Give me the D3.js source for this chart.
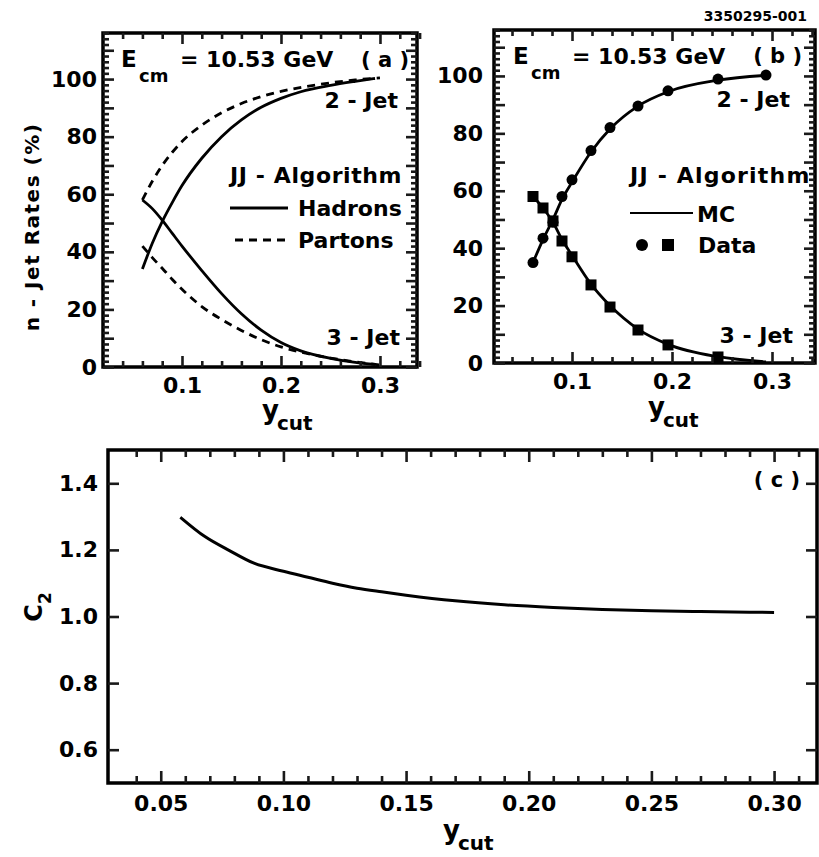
<!DOCTYPE html>
<html>
<head>
<meta charset="utf-8">
<script src="https://cdn.jsdelivr.net/npm/d3@7"></script>
<style>
  body { margin: 0; background: #fff; }
  svg text { font-family: "DejaVu Sans", sans-serif; font-weight: bold; fill: #000; }
</style>
</head>
<body>
<svg id="chart" width="819" height="857"></svg>
<script>
// ---- panel (a): JJ algorithm, MC at hadron and parton level ----
const hadX    = [0.060, 0.070, 0.080, 0.090, 0.100, 0.120, 0.140, 0.160, 0.180, 0.200, 0.220, 0.250, 0.275, 0.295];
const had2Jet = [34, 43, 50.5, 57, 63, 72.5, 80, 85.8, 90.2, 93.3, 95.6, 97.8, 99.2, 100.2];
const had3Jet = [58, 55, 51, 46.5, 42, 33.5, 25.5, 18.5, 12.8, 8.5, 5.6, 3.0, 1.6, 0.9];

const parX    = [0.060, 0.070, 0.080, 0.090, 0.100, 0.120, 0.140, 0.160, 0.180, 0.200, 0.225, 0.250, 0.275, 0.300];
const par2Jet = [58, 64.5, 70, 74.5, 78.3, 84, 88.3, 91.5, 93.9, 95.7, 97.4, 98.7, 99.7, 100.4];
const par3Jet = [42, 38, 34.3, 30.5, 27, 21, 16.5, 12.7, 9.5, 7, 4.8, 3.1, 1.8, 0.7];

// ---- panel (b): data vs MC ----
const dataX    = [0.061, 0.071, 0.081, 0.090, 0.100, 0.119, 0.138, 0.166, 0.196, 0.246, 0.294];
const data2Jet = [35, 43.5, 49, 58, 63.8, 74, 82, 89.5, 94.8, 98.9, 100.3];
const data3Jet = [58, 54, 49.5, 42.5, 37, 27.2, 19.5, 11.5, 6.3, 2.1, null];

const mcX    = [0.061, 0.071, 0.081, 0.090, 0.100, 0.119, 0.138, 0.166, 0.196, 0.246, 0.294];
const mc2Jet = [35, 43, 50, 57, 63, 73.5, 81.5, 89.5, 94.5, 98.5, 100.2];
const mc3Jet = [58, 54, 49, 43, 37.5, 27.5, 20, 11.8, 6.5, 2.2, 0.4];

// ---- panel (c): C2 vs ycut ----
const cX  = [0.058, 0.068, 0.078, 0.088, 0.100, 0.110, 0.120, 0.130, 0.140, 0.150, 0.170, 0.190, 0.210, 0.230, 0.250, 0.270, 0.290, 0.300];
const cC2 = [1.298, 1.240, 1.198, 1.160, 1.136, 1.118, 1.100, 1.085, 1.074, 1.064, 1.047, 1.035, 1.027, 1.021, 1.017, 1.015, 1.013, 1.012];

// ---- ticks ----
const rateXMajor = [0.1, 0.2, 0.3];
const rateXMinor = [0.04, 0.06, 0.08, 0.12, 0.14, 0.16, 0.18, 0.22, 0.24, 0.26, 0.28, 0.32, 0.34];
const rateYMajor = d3.range(0, 120, 10);
const rateYMinor = d3.range(0, 117, 2).filter(v => v % 10 !== 0);
const rateYLabels = [0, 20, 40, 60, 80, 100];

const c2XMajor = [0.05, 0.10, 0.15, 0.20, 0.25, 0.30];
const c2XMinor = [0.04, 0.06, 0.07, 0.08, 0.09, 0.11, 0.12, 0.13, 0.14, 0.16, 0.17, 0.18, 0.19,
                  0.21, 0.22, 0.23, 0.24, 0.26, 0.27, 0.28, 0.29, 0.31];
const c2YMajor = [0.6, 0.8, 1.0, 1.2, 1.4];

const svg = d3.select("#chart");

const boxA = {l: 103, t: 33, r: 417, b: 367};
const boxB = {l: 494, t: 30, r: 815, b: 363};
const boxC = {l: 108, t: 450, r: 817, b: 783};

const sA = {x: d3.scaleLinear().domain([0.0202, 0.3374]).range([boxA.l, boxA.r]),
            y: d3.scaleLinear().domain([0, 116]).range([boxA.b, boxA.t])};
const sB = {x: d3.scaleLinear().domain([0.022, 0.343]).range([boxB.l, boxB.r]),
            y: d3.scaleLinear().domain([0, 116]).range([boxB.b, boxB.t])};
const sC = {x: d3.scaleLinear().domain([0.0285, 0.3175]).range([boxC.l, boxC.r]),
            y: d3.scaleLinear().domain([0.5, 1.5]).range([boxC.b, boxC.t])};

// tick labels from d3 axes
function labels(g, fn, scale, pos, vals, fmt, pad, horiz) {
  const ag = g.append("g")
    .attr("transform", horiz ? `translate(0,${pos})` : `translate(${pos},0)`)
    .call(fn(scale).tickValues(vals).tickSize(0).tickPadding(pad).tickFormat(fmt));
  ag.select(".domain").remove();
  ag.selectAll("text").style("font-size", "22px");
}

function frame(g, box) {
  g.append("rect")
    .attr("x", box.l).attr("y", box.t)
    .attr("width", box.r - box.l).attr("height", box.b - box.t)
    .attr("fill", "none").attr("stroke", "#000").attr("stroke-width", 3.5);
}

function curve(g, sc, xs, ys, dash, width) {
  const pts = xs.map((x, i) => [x, ys[i]]).filter(p => p[1] != null);
  g.append("path")
    .datum(pts)
    .attr("fill", "none").attr("stroke", "#000")
    .attr("stroke-width", width || 2.8)
    .attr("stroke-dasharray", dash || null)
    .attr("d", d3.line().x(d => sc.x(d[0])).y(d => sc.y(d[1])).curve(d3.curveMonotoneX));
}

function label(g, x, y, s, size, anchor) {
  return g.append("text").attr("x", x).attr("y", y)
    .attr("text-anchor", anchor || "start")
    .style("font-size", size + "px").text(s);
}

function ecm(g, x, y) {
  label(g, x, y, "E", 23);
  label(g, x + 18, y + 15, "cm", 18);
  label(g, x + 59, y, "= 10.53 GeV", 22);
}

function ycut(g, x, y) {
  label(g, x, y - 11, "y", 26);
  label(g, x + 15, y, "cut", 20);
}

// ---------------- panel (a) ----------------
const gA = svg.append("g");
frame(gA, boxA);
labels(gA, d3.axisBottom, sA.x, boxA.b, rateXMajor, d3.format(".1f"), 10, true);
labels(gA, d3.axisLeft, sA.y, boxA.l, rateYLabels, d3.format("d"), 6, false);
curve(gA, sA, hadX, had2Jet);
curve(gA, sA, hadX, had3Jet);
curve(gA, sA, parX, par2Jet, "8,6");
curve(gA, sA, parX, par3Jet, "8,6");

ecm(gA, 121, 67);
label(gA, 409, 67, "( a )", 21, "end");
label(gA, 398, 108, "2 - Jet", 22, "end");
label(gA, 400, 345, "3 - Jet", 22, "end");
label(gA, 230, 183, "JJ - Algorithm", 22).style("letter-spacing", "0.6px");
gA.append("line").attr("x1", 230).attr("x2", 288).attr("y1", 208).attr("y2", 208)
  .attr("stroke", "#000").attr("stroke-width", 2.8);
label(gA, 298, 216, "Hadrons", 22);
gA.append("line").attr("x1", 235).attr("x2", 288).attr("y1", 240).attr("y2", 240)
  .attr("stroke", "#000").attr("stroke-width", 2.8).attr("stroke-dasharray", "8,6");
label(gA, 298, 248, "Partons", 22);
ycut(gA, 262, 430);
gA.append("text")
  .attr("transform", "translate(39,227) rotate(-90)")
  .attr("text-anchor", "middle")
  .style("font-size", "20px").style("letter-spacing", "1.5px")
  .text("n - Jet Rates (%)");

// ---------------- panel (b) ----------------
const gB = svg.append("g");
frame(gB, boxB);
labels(gB, d3.axisBottom, sB.x, boxB.b, rateXMajor, d3.format(".1f"), 10, true);
labels(gB, d3.axisLeft, sB.y, boxB.l, rateYLabels, d3.format("d"), 11, false);
curve(gB, sB, mcX, mc2Jet);
curve(gB, sB, mcX, mc3Jet);
gB.append("g").selectAll("circle")
  .data(dataX.map((x, i) => [x, data2Jet[i]]))
  .join("circle")
  .attr("cx", d => sB.x(d[0])).attr("cy", d => sB.y(d[1])).attr("r", 5.5).attr("fill", "#000");
gB.append("g").selectAll("rect")
  .data(dataX.map((x, i) => [x, data3Jet[i]]).filter(d => d[1] != null))
  .join("rect")
  .attr("x", d => sB.x(d[0]) - 5.5).attr("y", d => sB.y(d[1]) - 5.5)
  .attr("width", 11).attr("height", 11).attr("fill", "#000");

ecm(gB, 513, 64);
label(gB, 802, 63, "( b )", 21, "end");
label(gB, 790, 107, "2 - Jet", 22, "end");
label(gB, 793, 343, "3 - Jet", 22, "end");
label(gB, 630, 183, "JJ - Algorithm", 22).style("letter-spacing", "1.2px");
gB.append("line").attr("x1", 630).attr("x2", 693).attr("y1", 213).attr("y2", 213)
  .attr("stroke", "#000").attr("stroke-width", 1.8);
label(gB, 697, 222, "MC", 22);
gB.append("circle").attr("cx", 642).attr("cy", 245).attr("r", 6).attr("fill", "#000");
gB.append("rect").attr("x", 662).attr("y", 239).attr("width", 12).attr("height", 12).attr("fill", "#000");
label(gB, 698, 253, "Data", 22);
ycut(gB, 648, 427);
label(gB, 807, 21, "3350295-001", 14, "end");

// ---------------- panel (c) ----------------
const gC = svg.append("g");
frame(gC, boxC);
labels(gC, d3.axisBottom, sC.x, boxC.b, c2XMajor, d3.format(".2f"), 12, true);
labels(gC, d3.axisLeft, sC.y, boxC.l, c2YMajor, d3.format(".1f"), 10, false);
curve(gC, sC, cX, cC2, null, 3);

label(gC, 800, 487, "( c )", 21, "end");
ycut(gC, 443, 850);
const c2 = gC.append("text").attr("transform", "translate(42,607) rotate(-90)").attr("text-anchor", "middle");
c2.append("tspan").style("font-size", "24px").text("C");
c2.append("tspan").attr("dy", 9).style("font-size", "17px").text("2");

// ---------------- tick marks, inward from every frame side (d3 axes) ----------------
const tickLayer = svg.append("g");

function tickAxis(fn, scale, pos, vals, len, horiz) {
  const ag = tickLayer.append("g")
    .attr("transform", horiz ? `translate(0,${pos})` : `translate(${pos},0)`)
    .call(fn(scale).tickValues(vals).tickSize(-len).tickFormat(() => ""));
  ag.select(".domain").remove();
  ag.selectAll(".tick line").attr("stroke", "#1a1a1a").attr("stroke-width", 2.6);
}

function boxTicks(box, sc, xMaj, xMin, yMaj, yMin, xLen, yLen) {
  [[xMaj, xLen[0]], [xMin, xLen[1]]].forEach(([v, l]) => {
    if (!v.length) return;
    tickAxis(d3.axisBottom, sc.x, box.b, v, l, true);
    tickAxis(d3.axisTop, sc.x, box.t, v, l, true);
  });
  [[yMaj, yLen[0]], [yMin, yLen[1]]].forEach(([v, l]) => {
    if (!v.length) return;
    tickAxis(d3.axisLeft, sc.y, box.l, v, l, false);
    tickAxis(d3.axisRight, sc.y, box.r, v, l, false);
  });
}

boxTicks(boxA, sA, rateXMajor, rateXMinor, rateYMajor, rateYMinor, [11, 6], [11, 6]);
boxTicks(boxB, sB, rateXMajor, rateXMinor, rateYMajor, rateYMinor, [11, 6], [11, 6]);
boxTicks(boxC, sC, c2XMajor, c2XMinor, c2YMajor, [], [12, 7], [11, 0]);
</script>
</body>
</html>
